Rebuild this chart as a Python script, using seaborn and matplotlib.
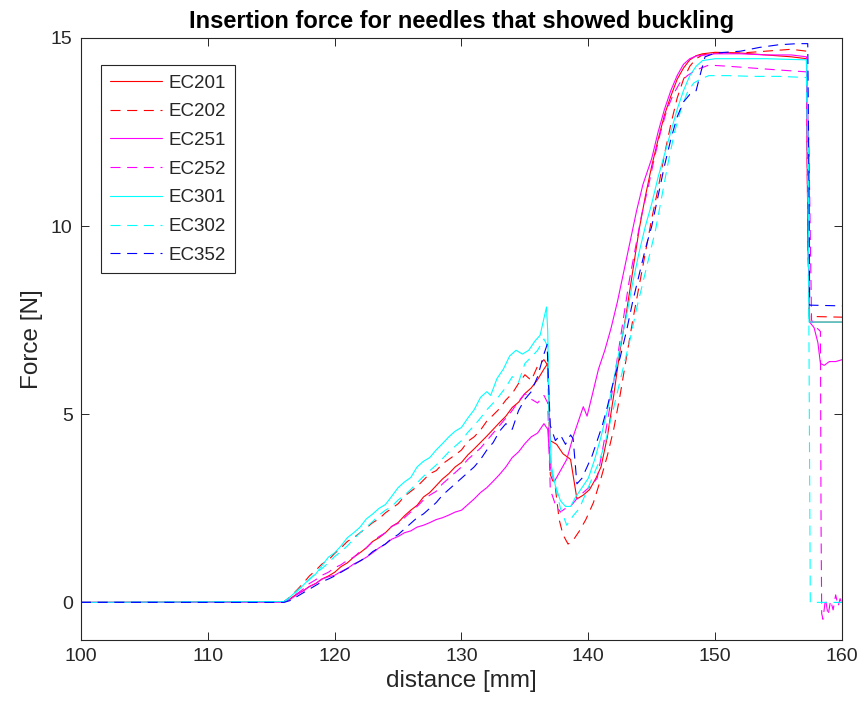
import matplotlib
matplotlib.use("Agg")
import matplotlib.pyplot as plt
import seaborn as sns
import pandas as pd

# ---------------- data ----------------
NEEDLES = ["EC201", "EC202", "EC251", "EC252", "EC301", "EC302", "EC352"]
COLORS = {"EC201": "#ff0000", "EC202": "#ff0000", "EC251": "#ff00ff", "EC252": "#ff00ff",
          "EC301": "#00ffff", "EC302": "#00ffff", "EC352": "#0000ff"}
DASHED = {"EC201": False, "EC202": True, "EC251": False, "EC252": True,
          "EC301": False, "EC302": True, "EC352": True}

DIST_201 = [100, 116, 116.5, 117, 117.5, 118, 118.5, 119, 119.5, 120, 120.5, 121, 121.5, 122, 122.5,
            123, 123.5, 124, 124.5, 125, 125.5, 126, 126.5, 127, 127.5, 128, 128.5, 129, 129.5, 130,
            130.5, 131, 131.5, 132, 132.5, 133, 133.5, 134, 134.5, 135, 135.5, 136, 136.5, 136.8,
            137.0, 137.5, 138.0, 138.6, 139.1, 139.6, 140.1, 140.6, 141.0, 141.5, 142.0, 142.5,
            143.0, 143.5, 144.0, 144.5, 145.0, 145.5, 146.0, 146.5, 147.0, 147.5, 148.0, 148.5,
            149.0, 150, 152, 154, 156, 157.2, 157.3, 157.45, 160]
FORCE_201 = [0, 0.02, 0.1, 0.22, 0.3, 0.42, 0.5, 0.62, 0.7, 0.8, 0.95, 1.05, 1.2, 1.32, 1.45,
             1.62, 1.72, 1.85, 2.02, 2.12, 2.3, 2.45, 2.58, 2.8, 2.92, 3.1, 3.28, 3.42, 3.6, 3.72,
             3.92, 4.08, 4.25, 4.42, 4.6, 4.78, 4.95, 5.18, 5.32, 5.55, 5.7, 5.92, 6.2, 6.35,
             4.3, 4.2, 3.95, 3.8, 2.75, 2.85, 3.0, 3.3, 3.6, 4.4, 5.5, 6.7, 7.7, 8.8, 9.9, 10.8,
             11.6, 12.3, 12.95, 13.45, 13.9, 14.2, 14.42, 14.53, 14.58, 14.62, 14.6, 14.55, 14.5,
             14.45, 10.0, 7.45, 7.45]

DIST_202 = [100, 116, 116.5, 117, 117.5, 118, 118.5, 119, 119.5, 120, 120.5, 121, 121.5, 122, 122.5,
            123, 123.5, 124, 124.5, 125, 125.5, 126, 126.5, 127, 127.5, 128, 128.5, 129, 129.5, 130,
            130.5, 131, 131.5, 132, 132.5, 133, 133.5, 134, 134.5, 135, 135.5, 136, 136.5, 136.8,
            137.0, 137.4, 137.7, 138.0, 138.4, 138.8, 139.3, 139.8, 140.4, 141.0, 141.5, 142.0,
            142.5, 143.0, 143.5, 144.0, 144.5, 145.0, 145.5, 146.0, 146.5, 147.0, 147.5, 148.0,
            148.5, 149, 150, 152, 154, 156, 157.2, 157.3, 157.4, 160]
FORCE_202 = [0, 0.02, 0.15, 0.32, 0.5, 0.7, 0.85, 1.02, 1.12, 1.3, 1.45, 1.62, 1.72, 1.85, 1.98,
             2.12, 2.22, 2.38, 2.5, 2.62, 2.82, 2.95, 3.08, 3.25, 3.42, 3.5, 3.68, 3.8, 3.92, 4.05,
             4.28, 4.4, 4.58, 4.82, 4.98, 5.15, 5.38, 5.55, 5.82, 6.05, 5.9, 6.28, 6.45, 6.3,
             3.4, 3.05, 2.2, 1.8, 1.55, 1.65, 1.9, 2.2, 2.65, 3.3, 3.9, 4.6, 5.5, 6.5, 7.5, 8.4,
             9.3, 10.2, 11.0, 11.9, 12.7, 13.4, 13.9, 14.25, 14.45, 14.55, 14.6, 14.6, 14.65,
             14.7, 14.65, 10.0, 7.6, 7.58]

DIST_251 = [100, 116, 116.5, 117, 117.5, 118, 118.5, 119, 119.5, 120, 120.5, 121, 121.5, 122, 122.5,
            123, 123.5, 124, 124.5, 125, 125.5, 126, 126.5, 127, 127.5, 128, 128.5, 129, 129.5, 130,
            130.5, 131, 131.5, 132, 132.5, 133, 133.5, 134, 134.5, 135, 135.5, 136, 136.5, 136.8,
            137.0, 137.3, 137.8, 138.3, 138.8, 139.3, 139.6, 139.9, 140.3, 140.8, 141.3, 141.8,
            142.3, 142.8, 143.3, 143.8, 144.3, 145.0, 145.5, 146.0, 146.5, 147.0, 147.5, 148.0,
            148.5, 150, 152, 154, 156, 157.2, 157.3, 157.45, 157.8, 158.1, 158.3, 158.6, 159,
            159.5, 160]
FORCE_251 = [0, 0.0, 0.08, 0.2, 0.3, 0.42, 0.5, 0.62, 0.68, 0.72, 0.82, 0.9, 1.02, 1.1, 1.2,
             1.32, 1.45, 1.55, 1.68, 1.75, 1.85, 1.9, 2.0, 2.05, 2.12, 2.2, 2.25, 2.32, 2.4, 2.45,
             2.6, 2.75, 2.92, 3.05, 3.22, 3.4, 3.6, 3.85, 4.0, 4.22, 4.4, 4.5, 4.75, 4.6,
             3.6, 3.2, 3.5, 3.8, 4.4, 4.9, 5.2, 4.95, 5.5, 6.2, 6.7, 7.3, 8.0, 8.8, 9.6, 10.4,
             11.1, 11.8, 12.5, 13.1, 13.6, 14.0, 14.3, 14.45, 14.52, 14.58, 14.58, 14.55, 14.55,
             14.5, 10.0, 7.45, 7.3, 6.9, 6.35, 6.3, 6.4, 6.4, 6.45]

DIST_252 = [100, 116, 116.5, 117, 117.5, 118, 118.5, 119, 119.5, 120, 120.5, 121, 121.5, 122, 122.5,
            123, 123.5, 124, 124.5, 125, 125.5, 126, 126.5, 127, 127.5, 128, 128.5, 129, 129.5, 130,
            130.5, 131, 131.5, 132, 132.5, 133, 133.5, 134, 134.5, 135, 135.5, 136, 136.5, 136.8,
            137.0, 137.4, 137.8, 138.2, 138.6, 139.2, 139.7, 140.2, 140.7, 141.2, 141.7, 142.2,
            142.7, 143.2, 143.7, 144.2, 144.7, 145.2, 145.7, 146.2, 146.7, 147.2, 147.8, 148.5,
            149.5, 151, 153, 155, 157.2, 157.4, 157.6, 158.0, 158.3, 158.35, 158.4, 158.5, 158.7,
            158.9, 159.1, 159.3, 159.5, 159.7, 159.85, 160]
FORCE_252 = [0, 0.02, 0.1, 0.22, 0.35, 0.5, 0.6, 0.72, 0.8, 0.92, 1.0, 1.12, 1.2, 1.35, 1.45,
             1.62, 1.75, 1.85, 2.02, 2.1, 2.25, 2.4, 2.55, 2.72, 2.85, 2.95, 3.15, 3.3, 3.45, 3.6,
             3.8, 3.95, 4.1, 4.3, 4.5, 4.7, 4.9, 5.1, 5.35, 5.55, 5.4, 5.3, 5.5, 5.3,
             3.0, 2.6, 2.4, 2.5, 2.55, 2.8, 2.95, 3.1, 3.3, 4.2, 5.2, 6.3, 7.4, 8.5, 9.4, 10.3,
             11.0, 11.8, 12.5, 13.1, 13.5, 13.8, 14.0, 14.15, 14.28, 14.25, 14.2, 14.15, 14.1,
             12.0, 7.5, 7.3, 7.2, 2.0, -0.3, -0.45, 0.1, -0.35, 0.05, -0.2, 0.2, -0.1, 0.1, -0.05]

DIST_301 = [100, 116, 116.5, 117, 117.5, 118, 118.5, 119, 119.5, 120, 120.5, 121, 121.5, 122, 122.5,
            123, 123.5, 124, 124.5, 125, 125.5, 126, 126.5, 127, 127.5, 128, 128.5, 129, 129.5, 130,
            130.5, 131, 131.5, 132, 132.3, 132.8, 133.3, 133.8, 134.3, 134.8, 135.3, 135.8, 136.2,
            136.7, 136.8, 136.9, 137.1, 137.4, 137.8, 138.2, 138.6, 139.0, 139.5, 140.0, 140.5,
            141.0, 141.5, 142.0, 142.5, 143.0, 143.5, 144.0, 144.5, 145.0, 145.5, 146.0, 146.5,
            147.0, 147.5, 148.0, 148.5, 149.0, 150, 152, 154, 156, 157.2, 157.35, 157.4, 160]
FORCE_301 = [0, 0.02, 0.15, 0.3, 0.45, 0.62, 0.75, 0.98, 1.2, 1.32, 1.5, 1.72, 1.85, 2.0, 2.22,
             2.35, 2.5, 2.6, 2.82, 3.05, 3.2, 3.32, 3.6, 3.75, 3.85, 4.05, 4.22, 4.4, 4.55, 4.65,
             4.9, 5.12, 5.45, 5.6, 5.5, 5.95, 6.2, 6.55, 6.7, 6.6, 6.7, 6.95, 7.1,
             7.85, 7.2, 5.0, 3.6, 3.1, 2.7, 2.55, 2.55, 2.8, 3.05, 3.3, 3.8, 4.4, 5.1, 5.9, 6.8,
             7.6, 8.5, 9.3, 10.0, 10.6, 11.3, 11.9, 12.5, 13.1, 13.6, 14.0, 14.25, 14.4, 14.45,
             14.45, 14.45, 14.43, 14.42, 12.0, 7.45, 7.45]

DIST_302 = [100, 116, 116.5, 117, 117.5, 118, 118.5, 119, 119.5, 120, 120.5, 121, 121.5, 122, 122.5,
            123, 123.5, 124, 124.5, 125, 125.5, 126, 126.5, 127, 127.5, 128, 128.5, 129, 129.5, 130,
            130.5, 131, 131.5, 132, 132.5, 133, 133.5, 134, 134.5, 135, 135.5, 136, 136.5, 136.8,
            137.0, 137.4, 137.8, 138.3, 138.8, 139.3, 139.8, 140.3, 140.8, 141.3, 141.8, 142.3,
            142.8, 143.3, 143.8, 144.3, 144.8, 145.3, 145.8, 146.3, 146.8, 147.3, 147.8, 148.3,
            148.8, 149.5, 151, 153, 155, 157.2, 157.35, 157.5, 160]
FORCE_302 = [0, 0.02, 0.12, 0.28, 0.45, 0.6, 0.78, 0.9, 1.05, 1.22, 1.35, 1.5, 1.68, 1.85, 2.0,
             2.15, 2.32, 2.45, 2.55, 2.72, 2.85, 3.0, 3.18, 3.35, 3.5, 3.65, 3.82, 4.0, 4.15, 4.3,
             4.52, 4.7, 4.9, 5.12, 5.3, 5.5, 5.72, 6.0, 5.85, 6.35, 6.52, 6.7, 7.0, 6.8,
             3.6, 3.1, 2.5, 2.05, 2.3, 2.5, 2.9, 3.3, 3.7, 4.2, 4.9, 5.6, 6.3, 7.0, 7.8, 8.5,
             9.2, 9.9, 10.8, 11.7, 12.5, 13.1, 13.55, 13.8, 13.9, 14.0, 14.0, 13.98, 13.98, 13.95,
             10.0, 0.0, 0.0]

DIST_352 = [100, 116, 116.5, 117, 117.5, 118, 118.5, 119, 119.5, 120, 120.5, 121, 121.5, 122, 122.5,
            123, 123.5, 124, 124.5, 125, 125.5, 126, 126.5, 127, 127.5, 128, 128.5, 129, 129.5, 130,
            130.5, 131, 131.5, 132, 132.5, 133, 133.5, 134, 134.5, 135, 135.5, 136, 136.5, 136.75,
            136.9, 137.0, 137.4, 137.8, 138.2, 138.6, 138.8, 139.1, 139.5, 139.9, 140.3, 140.7,
            141.1, 141.5, 142.0, 142.5, 143.0, 143.5, 144.0, 144.5, 145.0, 145.5, 146.0, 146.5,
            147.0, 147.5, 148.0, 148.5, 148.8, 149.2, 150, 152, 153.5, 155, 156.5, 157.3, 157.4,
            157.45, 160]
FORCE_352 = [0, 0.0, 0.05, 0.15, 0.25, 0.35, 0.45, 0.55, 0.62, 0.7, 0.8, 0.9, 1.0, 1.1, 1.2,
             1.35, 1.45, 1.55, 1.7, 1.8, 1.95, 2.1, 2.25, 2.35, 2.5, 2.65, 2.85, 3.0, 3.15, 3.3,
             3.45, 3.6, 3.8, 4.05, 4.25, 4.55, 4.75, 4.6, 5.1, 5.4, 5.6, 6.0, 6.6, 6.85,
             5.5, 4.7, 4.3, 4.45, 4.2, 4.45, 4.35, 3.15, 3.3, 3.6, 3.9, 4.3, 4.7, 5.2, 5.9, 6.5,
             7.2, 8.0, 8.7, 9.4, 10.0, 10.8, 11.6, 12.3, 12.9, 13.3, 13.5, 13.6, 14.0, 14.5,
             14.6, 14.65, 14.75, 14.82, 14.85, 14.85, 11.0, 7.9, 7.88]

SERIES = {
    "EC201": (DIST_201, FORCE_201),
    "EC202": (DIST_202, FORCE_202),
    "EC251": (DIST_251, FORCE_251),
    "EC252": (DIST_252, FORCE_252),
    "EC301": (DIST_301, FORCE_301),
    "EC302": (DIST_302, FORCE_302),
    "EC352": (DIST_352, FORCE_352),
}

X_TICKS = [100, 110, 120, 130, 140, 150, 160]
Y_TICKS = [0, 5, 10, 15]

# ---------------- styling ----------------
sns.set_style("ticks")
plt.rcParams["font.family"] = ["Liberation Sans", "DejaVu Sans"]
DARK = "#262626"
plt.rcParams.update({
    "xtick.direction": "in", "ytick.direction": "in",
    "xtick.top": True, "ytick.right": True,
    "xtick.major.size": 6, "ytick.major.size": 6,
    "xtick.major.width": 0.7, "ytick.major.width": 0.7,
    "xtick.color": DARK, "ytick.color": DARK,
    "axes.edgecolor": DARK, "axes.linewidth": 0.8,
})

fig = plt.figure(figsize=(8.62, 7.15), dpi=100)
ax = fig.add_axes([81 / 862, 1 - 640 / 715, (842 - 81) / 862, (640 - 38) / 715])

frames = []
for name in NEEDLES:
    d, f = SERIES[name]
    frames.append(pd.DataFrame({"distance": d, "force": f, "needle": name}))
df = pd.concat(frames, ignore_index=True)

dash_map = {n: ((9, 6) if DASHED[n] else "") for n in NEEDLES}
sns.lineplot(data=df, x="distance", y="force", hue="needle", style="needle",
             palette=COLORS, dashes=dash_map, hue_order=NEEDLES, style_order=NEEDLES,
             sort=False, estimator=None, linewidth=0.8, ax=ax)

ax.set_xlim(100, 160)
ax.set_ylim(-1, 15)
ax.set_xticks(X_TICKS)
ax.set_yticks(Y_TICKS)
ax.tick_params(labelsize=14, pad=6)
for sp in ax.spines.values():
    sp.set_visible(True)
    sp.set_color(DARK)

ax.set_xlabel("distance [mm]", fontsize=17.5, color=DARK, labelpad=3)
ax.set_ylabel("Force [N]", fontsize=17.5, color=DARK, labelpad=6)
ax.set_title("Insertion force for needles that showed buckling", fontsize=17,
             fontweight="bold", color="black", pad=7)

handles, labels = ax.get_legend_handles_labels()
leg = ax.legend(handles, labels, loc="upper left", bbox_to_anchor=(20 / 761, 1 - 27 / 602),
                borderaxespad=0, fontsize=13.5, handlelength=2.75, handletextpad=0.35,
                labelspacing=0.62, frameon=True, fancybox=False, framealpha=1,
                edgecolor=DARK, borderpad=0.5)
leg.get_frame().set_linewidth(0.8)
for t in leg.get_texts():
    t.set_color(DARK)

fig.savefig("out.png", dpi=100)
